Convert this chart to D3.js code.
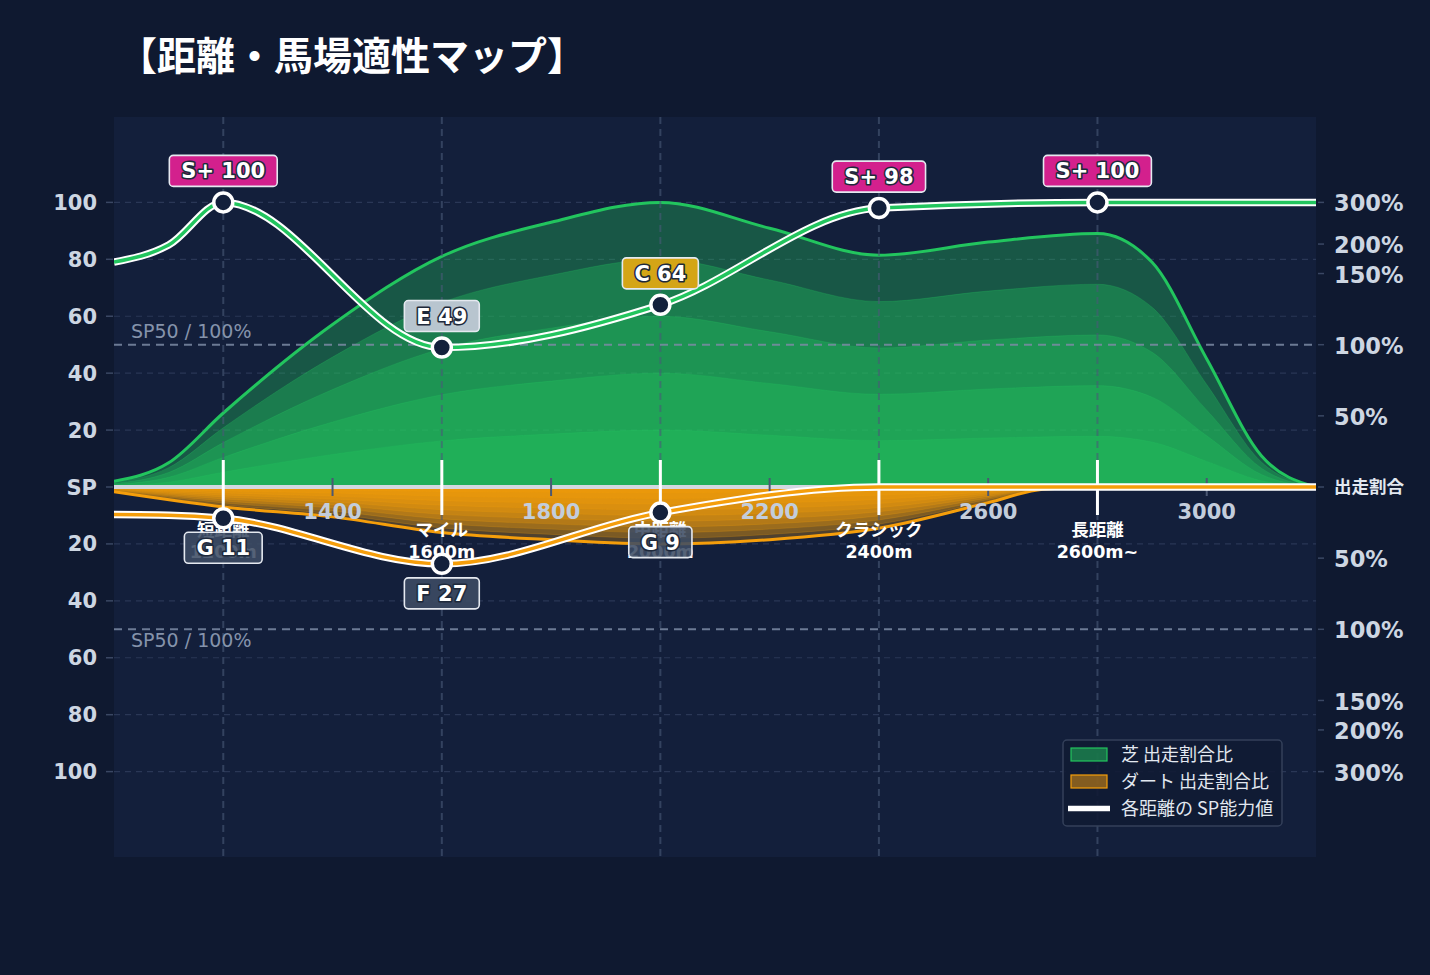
<!DOCTYPE html>
<html><head><meta charset="utf-8">
<script src="https://cdn.jsdelivr.net/npm/d3@7"></script>
<style>
html,body{margin:0;padding:0;background:#0f1930;}
svg{display:block;}
</style></head><body>
<svg id="chart" width="1430" height="975"></svg>
<script>
// ---------- data ----------
const chartTitle = "【距離・馬場適性マップ】";
const categories = ["短距離", "マイル", "中距離", "クラシック", "長距離"];
const categoryDistLabels = ["1200m", "1600m", "2000m", "2400m", "2600m~"];
const categoryPositions = [1200, 1600, 2000, 2400, 2800];
const turfGrades = ["S+", "E", "C", "S+", "S+"];
const turfGradeValues = [100, 49, 64, 98, 100];
const dirtGrades = ["G", "F", "G"];
const dirtGradeValues = [11, 27, 9];

const spDistances = [1000, 1100, 1200, 1600, 2000, 2400, 2800, 3200];
const turfSP = [79, 85, 100, 49, 64, 98, 100, 100];
const dirtSP = [9.7, 9.9, 11, 27, 9, 0, 0, 0];

const turfRatioDistances = [1000, 1100, 1200, 1400, 1600, 1800, 2000, 2200, 2400, 2600, 2800, 2900, 3000, 3100, 3200];
const turfRatio = [4, 17, 52, 104, 177, 248, 300, 234, 179, 204, 222, 167, 90, 22, 0];
const dirtRatioDistances = [1000, 1200, 1400, 1600, 1800, 2000, 2200, 2400, 2600, 2700, 2800, 3000, 3200];
const dirtRatio = [3.4, 14, 21, 32, 37, 40, 37, 29, 11, 1.6, 0, 0, 0];

const xTickValues = [1400, 1800, 2200, 2600, 3000];
const spTickValues = [20, 40, 60, 80, 100];
const ratioTickValues = [50, 100, 150, 200, 300];
const legendLabels = ["芝 出走割合比", "ダート 出走割合比", "各距離の SP能力値"];

// ---------- setup ----------
const W = 1430, H = 975;
const L = 114, R = 1316, T = 117, B = 857;
const svg = d3.select("#chart");
const FONT = "'DejaVu Sans','Noto Sans CJK JP',sans-serif";
const CJK = "'Noto Sans CJK JP','DejaVu Sans',sans-serif";
const GREEN = "#22c55e", ORANGE = "#f59e0b";

svg.append("rect").attr("width", W).attr("height", H).attr("fill", "#0f1930");
svg.append("rect").attr("x", L).attr("y", T).attr("width", R - L).attr("height", B - T).attr("fill", "#131f3b");

const x = d3.scaleLinear().domain([1000, 3200]).range([L, R]);
const y = d3.scaleLinear().domain([-130, 130]).range([B, T]);

// ratio (%) -> SP-equivalent height
const lowRatio = d3.scaleLinear().domain([0, 100]).range([0, 50]);
const highRatio = d3.scaleSqrt().domain([0, 200]).range([0, 50]);
const toSP = r => r <= 100 ? lowRatio(r) : 50 + highRatio(r - 100);

svg.append("defs").append("clipPath").attr("id", "plotclip")
  .append("rect").attr("x", L).attr("y", T).attr("width", R - L).attr("height", B - T);

// horizontal grid
const gGrid = svg.append("g");
spTickValues.forEach(v => {
  [v, -v].forEach(s => {
    gGrid.append("line").attr("x1", L).attr("x2", R).attr("y1", y(s)).attr("y2", y(s))
      .attr("stroke", "#2a3756").attr("stroke-width", 1.2).attr("stroke-dasharray", "6,5");
  });
});

// areas
const gArea = svg.append("g").attr("clip-path", "url(#plotclip)");
const turfData = turfRatioDistances.map((d, i) => ({ d, r: turfRatio[i] }));
const dirtData = dirtRatioDistances.map((d, i) => ({ d, r: dirtRatio[i] }));
const greenLayers = [1, 0.8, 0.6, 0.4, 0.2];
const orangeLayers = [1, 0.9, 0.8, 0.7, 0.6, 0.5, 0.4, 0.3, 0.2, 0.1];

greenLayers.forEach(f => {
  const a = d3.area().x(d => x(d.d)).y0(y(0)).y1(d => y(f * toSP(d.r))).curve(d3.curveMonotoneX);
  gArea.append("path").datum(turfData).attr("d", a)
    .attr("fill", GREEN).attr("fill-opacity", 0.34)
    .attr("stroke", GREEN).attr("stroke-opacity", 0.25).attr("stroke-width", 1);
});
orangeLayers.forEach(f => {
  const a = d3.area().x(d => x(d.d)).y0(y(0)).y1(d => y(-f * toSP(d.r))).curve(d3.curveMonotoneX);
  gArea.append("path").datum(dirtData).attr("d", a)
    .attr("fill", ORANGE).attr("fill-opacity", 0.27)
    .attr("stroke", ORANGE).attr("stroke-opacity", 0.2).attr("stroke-width", 1);
});
gArea.append("path").datum(turfData)
  .attr("d", d3.line().x(d => x(d.d)).y(d => y(toSP(d.r))).curve(d3.curveMonotoneX))
  .attr("fill", "none").attr("stroke", GREEN).attr("stroke-width", 3);
gArea.append("path").datum(dirtData)
  .attr("d", d3.line().x(d => x(d.d)).y(d => y(-toSP(d.r))).curve(d3.curveMonotoneX))
  .attr("fill", "none").attr("stroke", ORANGE).attr("stroke-width", 3);

// vertical grid at categories
categoryPositions.forEach(p => {
  svg.append("line").attr("x1", x(p)).attr("x2", x(p)).attr("y1", T).attr("y2", B)
    .attr("stroke", "#4a5a78").attr("stroke-opacity", 0.6).attr("stroke-width", 2).attr("stroke-dasharray", "7,5");
});

// SP50 lines
[50, -50].forEach(s => {
  svg.append("line").attr("x1", L).attr("x2", R).attr("y1", y(s)).attr("y2", y(s))
    .attr("stroke", "#7d8ba5").attr("stroke-opacity", 0.85).attr("stroke-width", 2).attr("stroke-dasharray", "8,6");
  svg.append("text").attr("x", 131).attr("y", s > 0 ? y(s) - 7 : y(s) + 18)
    .attr("font-family", FONT).attr("font-size", 19).attr("fill", "#8593ab").text("SP50 / 100%");
});

// zero line
svg.append("line").attr("x1", L).attr("x2", R).attr("y1", y(0)).attr("y2", y(0))
  .attr("stroke", "#d3d8e0").attr("stroke-width", 4);

// minor x ticks
xTickValues.forEach(v => {
  svg.append("line").attr("x1", x(v)).attr("x2", x(v)).attr("y1", 478).attr("y2", 496)
    .attr("stroke", "#4b5873").attr("stroke-width", 2);
  svg.append("text").attr("x", x(v)).attr("y", 519).attr("text-anchor", "middle")
    .attr("font-family", FONT).attr("font-weight", "bold").attr("font-size", 21)
    .attr("fill", "#c3cddb").text(v);
});

// category ticks + labels
categoryPositions.forEach((p, i) => {
  svg.append("line").attr("x1", x(p)).attr("x2", x(p)).attr("y1", 460).attr("y2", 515)
    .attr("stroke", "#ffffff").attr("stroke-width", 3);
  svg.append("text").attr("x", x(p)).attr("y", 536).attr("text-anchor", "middle")
    .attr("font-family", CJK).attr("font-weight", "bold").attr("font-size", 17.5)
    .attr("fill", "#ffffff").text(categories[i]);
  svg.append("text").attr("x", x(p)).attr("y", 558).attr("text-anchor", "middle")
    .attr("font-family", FONT).attr("font-weight", "bold").attr("font-size", 17.5)
    .attr("fill", "#ffffff").text(categoryDistLabels[i]);
});

// SP lines
const turfLineData = spDistances.map((d, i) => ({ d, v: turfSP[i] }));
const dirtLineData = spDistances.map((d, i) => ({ d, v: -dirtSP[i] }));
const spLine = d3.line().x(d => x(d.d)).y(d => y(d.v)).curve(d3.curveMonotoneX);
const gLines = svg.append("g").attr("clip-path", "url(#plotclip)");
[[dirtLineData, ORANGE], [turfLineData, GREEN]].forEach(([data, col]) => {
  gLines.append("path").datum(data).attr("d", spLine).attr("fill", "none")
    .attr("stroke", "#ffffff").attr("stroke-width", 7.5);
  gLines.append("path").datum(data).attr("d", spLine).attr("fill", "none")
    .attr("stroke", col).attr("stroke-width", 3.5);
});

// markers + badges
const badgeFill = g => g === "S+" ? "#d3208d" : g === "E" ? "#b8c5cf" : g === "C" ? "#d4a516" : "rgba(62,76,100,0.88)";
function badge(cx, topY, label, grade) {
  const g = svg.append("g");
  const rect = g.append("rect");
  const t = g.append("text").attr("x", cx).attr("y", topY + 23).attr("text-anchor", "middle")
    .attr("font-family", FONT).attr("font-weight", "bold").attr("font-size", 21)
    .attr("fill", "#ffffff").attr("stroke", "#1e293b").attr("stroke-width", 3.2)
    .attr("paint-order", "stroke").attr("stroke-linejoin", "round").text(label);
  const w = t.node().getComputedTextLength() + 24;
  rect.attr("x", cx - w / 2).attr("y", topY).attr("width", w).attr("height", 31).attr("rx", 4)
    .attr("fill", badgeFill(grade)).attr("stroke", "#e5e9f0").attr("stroke-width", 1.6);
}
turfGradeValues.forEach((v, i) => {
  const cx = x(categoryPositions[i]), cy = y(v);
  svg.append("circle").attr("cx", cx).attr("cy", cy).attr("r", 9.5)
    .attr("fill", "#13203b").attr("stroke", "#ffffff").attr("stroke-width", 3.5);
  badge(cx, cy - 47, turfGrades[i] + " " + v, turfGrades[i]);
});
dirtGradeValues.forEach((v, i) => {
  const cx = x(categoryPositions[i]), cy = y(-v);
  svg.append("circle").attr("cx", cx).attr("cy", cy).attr("r", 9.5)
    .attr("fill", "#13203b").attr("stroke", "#ffffff").attr("stroke-width", 3.5);
  badge(cx, cy + 14, dirtGrades[i] + " " + v, dirtGrades[i]);
});

// left axis
const axisCol = "#cdd6e2";
spTickValues.forEach(v => {
  [v, -v].forEach(s => {
    svg.append("line").attr("x1", 106).attr("x2", 113).attr("y1", y(s)).attr("y2", y(s))
      .attr("stroke", "#3a4763").attr("stroke-width", 1.5);
    svg.append("text").attr("x", 97).attr("y", y(s)).attr("dy", "0.36em").attr("text-anchor", "end")
      .attr("font-family", FONT).attr("font-weight", "bold").attr("font-size", 21)
      .attr("fill", axisCol).text(v);
  });
});
svg.append("line").attr("x1", 106).attr("x2", 113).attr("y1", y(0)).attr("y2", y(0))
  .attr("stroke", "#3a4763").attr("stroke-width", 1.5);
svg.append("text").attr("x", 97).attr("y", y(0)).attr("dy", "0.36em").attr("text-anchor", "end")
  .attr("font-family", FONT).attr("font-weight", "bold").attr("font-size", 21)
  .attr("fill", axisCol).text("SP");

// right axis
ratioTickValues.forEach(r => {
  [1, -1].forEach(sg => {
    const yy = y(sg * toSP(r));
    svg.append("line").attr("x1", 1318).attr("x2", 1324).attr("y1", yy).attr("y2", yy)
      .attr("stroke", "#3a4763").attr("stroke-width", 1.5);
    svg.append("text").attr("x", 1334).attr("y", yy + 1).attr("dy", "0.36em")
      .attr("font-family", FONT).attr("font-weight", "bold").attr("font-size", 22.5)
      .attr("fill", axisCol).text(r + "%");
  });
});
svg.append("line").attr("x1", 1318).attr("x2", 1324).attr("y1", y(0)).attr("y2", y(0))
  .attr("stroke", "#3a4763").attr("stroke-width", 1.5);
svg.append("text").attr("x", 1334).attr("y", y(0)).attr("dy", "0.36em")
  .attr("font-family", CJK).attr("font-weight", "bold").attr("font-size", 17.5)
  .attr("fill", "#e2e8f0").text("出走割合");

// title
svg.append("text").attr("x", 118).attr("y", 70)
  .attr("font-family", CJK).attr("font-weight", "bold").attr("font-size", 39)
  .attr("fill", "#ffffff").text(chartTitle);

// legend
const lg = svg.append("g");
lg.append("rect").attr("x", 1063).attr("y", 740).attr("width", 219).attr("height", 86).attr("rx", 4)
  .attr("fill", "#111b34").attr("fill-opacity", 0.9).attr("stroke", "#34405a").attr("stroke-width", 1.5);
lg.append("rect").attr("x", 1071).attr("y", 748).attr("width", 36).attr("height", 13)
  .attr("fill", GREEN).attr("fill-opacity", 0.5).attr("stroke", GREEN).attr("stroke-width", 1.2);
lg.append("rect").attr("x", 1071).attr("y", 775).attr("width", 36).attr("height", 13)
  .attr("fill", ORANGE).attr("fill-opacity", 0.5).attr("stroke", ORANGE).attr("stroke-width", 1.2);
lg.append("line").attr("x1", 1068).attr("x2", 1110).attr("y1", 808.5).attr("y2", 808.5)
  .attr("stroke", "#ffffff").attr("stroke-width", 5.5);
legendLabels.forEach((t, i) => {
  lg.append("text").attr("x", 1121).attr("y", 761 + i * 27)
    .attr("font-family", CJK).attr("font-size", 18).attr("fill", "#e2e8f0").text(t);
});
</script>
</body></html>
